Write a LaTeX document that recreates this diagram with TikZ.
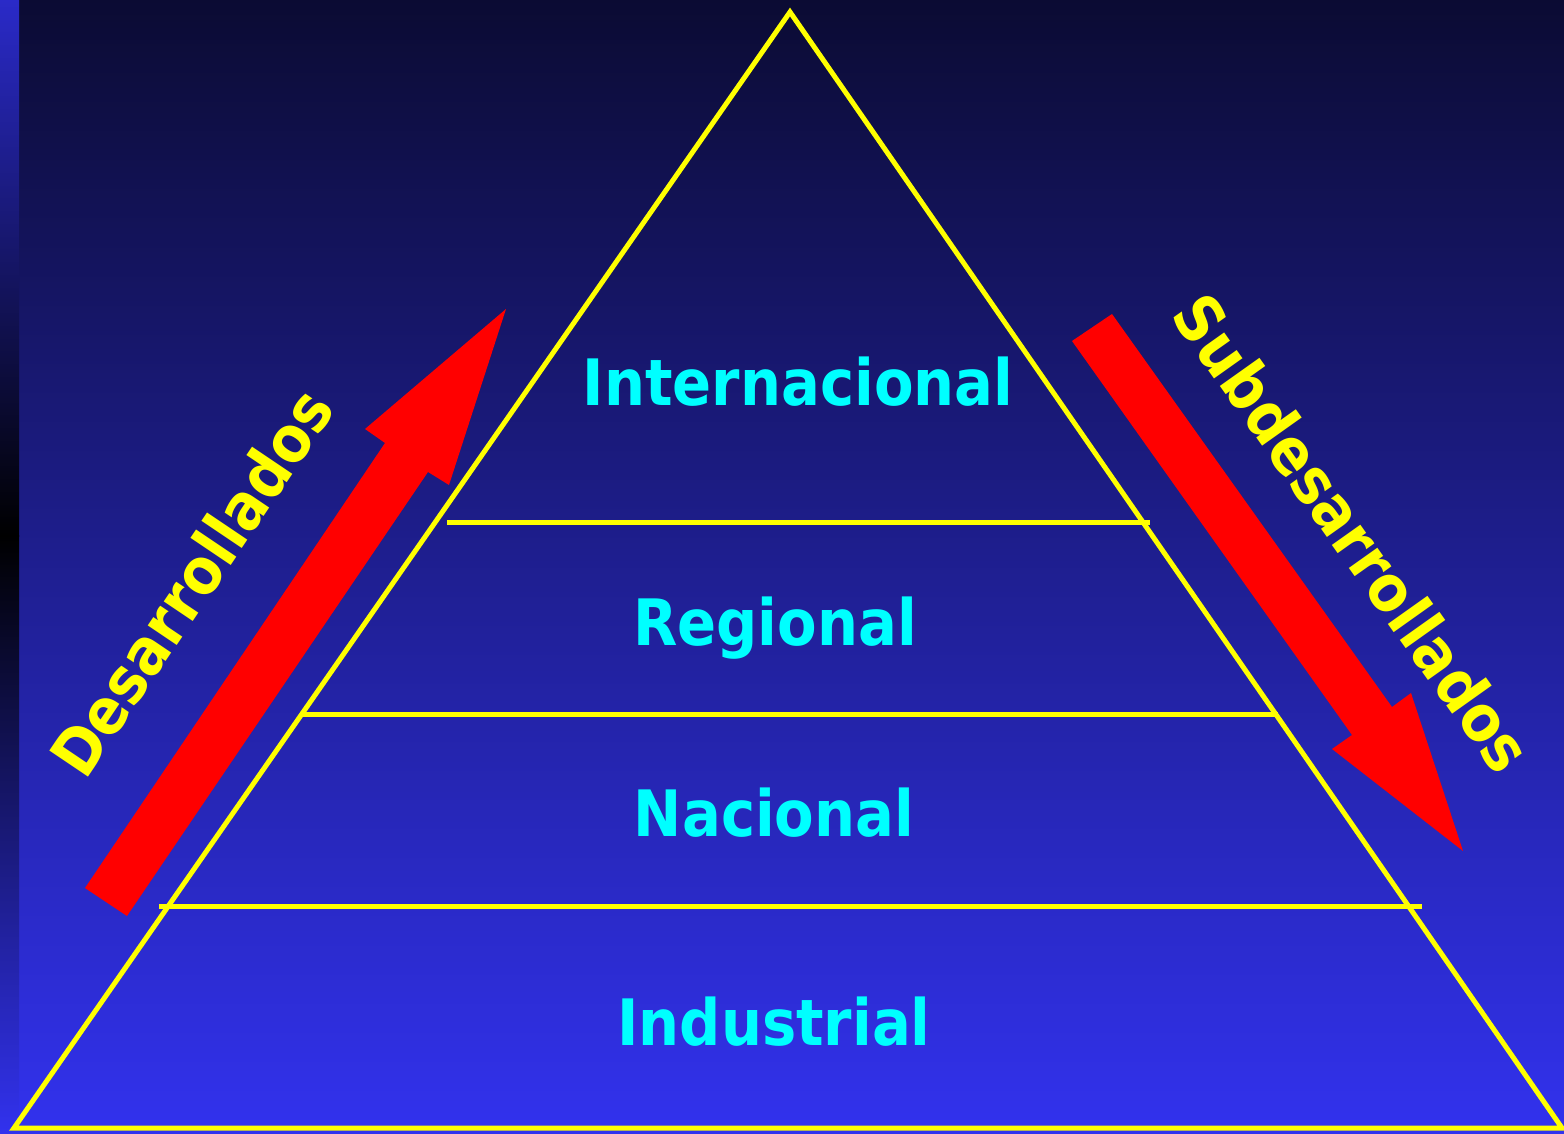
\documentclass[tikz,border=0pt]{standalone}
\usepackage{fontspec}
\newfontfamily\tah[FakeStretch=0.9]{DejaVu Sans}
\definecolor{bgtop}{HTML}{0B0B33}
\definecolor{bgmid}{HTML}{2020A8}
\definecolor{bgbot}{HTML}{3232EE}
\definecolor{striptop}{HTML}{2A2AC8}
\definecolor{pyel}{HTML}{FFFF00}
\definecolor{pcyan}{HTML}{00FFFF}
\definecolor{pred}{HTML}{FF0000}
\tikzset{
  level/.style={text=pcyan, font=\tah\bfseries\fontsize{64}{70}\selectfont, inner sep=0pt, anchor=base},
  side/.style={text=pyel, font=\tah\bfseries\fontsize{64}{70}\selectfont, inner sep=0pt},
  pyr/.style={draw=pyel, line width=5pt},
  bigarrow/.style={fill=pred, draw=none}
}
\begin{document}
\begin{tikzpicture}[x=1pt,y=-1pt]
\useasboundingbox (0,0) rectangle (1564,1134);
% background
\shade[top color=bgtop, middle color=bgmid, bottom color=bgbot] (19,0) rectangle (1564,1134);
\shade[top color=striptop, bottom color=black] (0,0) rectangle (19,536);
\shade[top color=black, bottom color=bgbot] (0,535) rectangle (19,1134);
% pyramid
\coordinate (apex) at (790,12);
\coordinate (bl) at (14,1128);
\coordinate (br) at (1562,1128);
\draw[pyr] (apex) -- (bl) -- (br) -- cycle;
\coordinate (l1a) at (447,522); \coordinate (l1b) at (1150,522);
\coordinate (l2a) at (302,714); \coordinate (l2b) at (1278,714);
\coordinate (l3a) at (159,906); \coordinate (l3b) at (1422,906);
\draw[pyr] (l1a) -- (l1b);
\draw[pyr] (l2a) -- (l2b);
\draw[pyr] (l3a) -- (l3b);
% level labels
\node[level] (inter) at (798,405) {Internacional};
\node[level] (reg) at (775,645) {Regional};
\node[level] (nac) at (774,836) {Nacional};
\node[level] (ind) at (774,1045) {Industrial};
% arrows
\fill[bigarrow] (85,888) -- (385,443) -- (365,429) -- (506,309) -- (449,485) -- (428,472) -- (127,916) -- cycle;
\fill[bigarrow] (1072,341) -- (1352,735) -- (1332,749) -- (1463,851) -- (1411,693) -- (1392,707) -- (1112,314) -- cycle;
% side labels
\node[side, rotate=56] (des) at (191,582) {Desarrollados};
\node[side, rotate=-54.6] (sub) at (1353,533) {Subdesarrollados};
\end{tikzpicture}
\end{document}
